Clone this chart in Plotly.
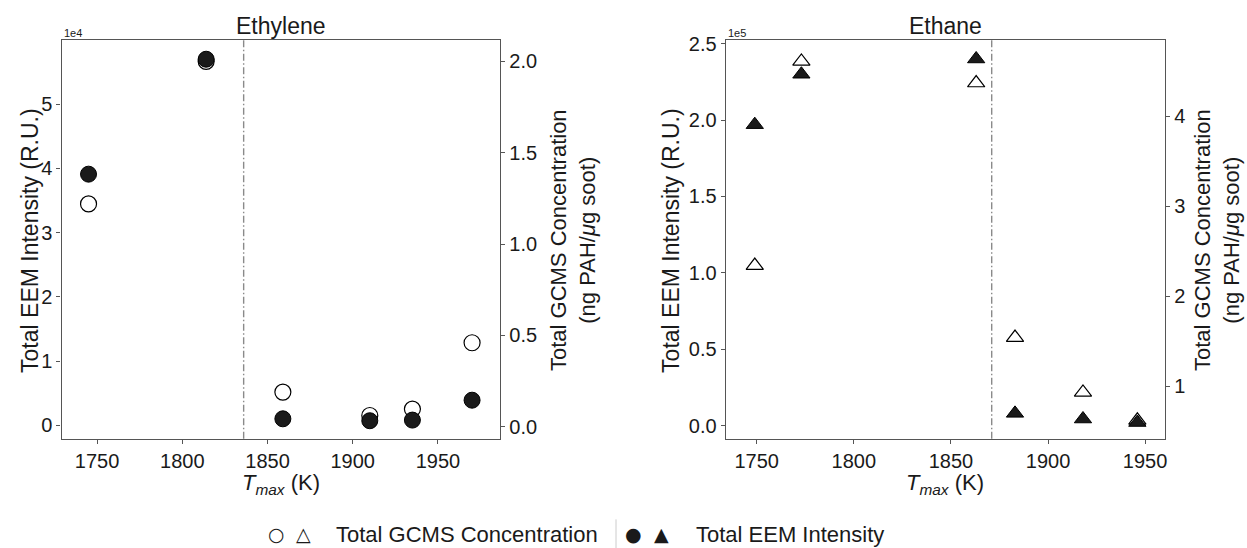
import plotly.graph_objects as go

W, H = 1247, 548

# ---------------- data ----------------
titles = ["Ethylene", "Ethane"]

ethylene_T = [1745, 1814, 1859, 1910, 1935, 1970]
ethylene_eem = [39100, 57000, 1000, 700, 800, 3900]
ethylene_gcms = [1.22, 2.00, 0.19, 0.062, 0.097, 0.46]

ethane_T = [1749, 1773, 1863, 1883, 1918, 1946]
ethane_eem = [197000, 230000, 240000, 8000, 4300, 2000]
ethane_gcms = [2.34, 4.61, 4.37, 1.54, 0.93, 0.62]

divider_T = [1836, 1871]

x_ticks = [1750, 1800, 1850, 1900, 1950]
ethylene_eem_ticks = [0, 10000, 20000, 30000, 40000, 50000]
ethylene_eem_ticktext = ["0", "1", "2", "3", "4", "5"]
ethylene_gcms_ticks = [0.0, 0.5, 1.0, 1.5, 2.0]
ethane_eem_ticks = [0, 50000, 100000, 150000, 200000, 250000]
ethane_eem_ticktext = ["0.0", "0.5", "1.0", "1.5", "2.0", "2.5"]
ethane_gcms_ticks = [1, 2, 3, 4]

legend_labels = ["Total GCMS Concentration", "Total EEM Intensity"]

# ---------------- style ----------------
FONT = "Liberation Sans, Arial, Helvetica, sans-serif"
SYMFONT = "DejaVu Sans, sans-serif"
AX = "#555555"
FILL = "#1a1a1a"
TXT = "#1a1a1a"


def px(x):
    return x / W


def py(y):
    return 1 - y / H


Y_DOM = [py(437.3), py(33)]
L_DOM = [px(61.7), px(501)]
R_DOM = [px(727), px(1167)]

axis_common = dict(
    showline=True, linecolor=AX, linewidth=1.3,
    ticks="outside", ticklen=4, tickwidth=1.3, tickcolor=AX,
    showgrid=False, zeroline=False,
    tickfont=dict(family=FONT, size=20, color=TXT),
)

fig = go.Figure()

open_marker_c = dict(symbol="circle", size=16, color="white", line=dict(color="black", width=1.2))
fill_marker_c = dict(symbol="circle", size=16, color=FILL, line=dict(color="black", width=1))
open_marker_t = dict(symbol="triangle-up", size=15, color="white", line=dict(color="black", width=1.2))
fill_marker_t = dict(symbol="triangle-up", size=15, color=FILL, line=dict(color="black", width=1))

# GCMS on base (right) axis, EEM on overlay (left) axis so filled markers are drawn on top
fig.add_trace(go.Scatter(x=ethylene_T, y=ethylene_gcms, mode="markers", marker=open_marker_c,
                         xaxis="x", yaxis="y", showlegend=False, name=legend_labels[0]))
fig.add_trace(go.Scatter(x=ethylene_T, y=ethylene_eem, mode="markers", marker=fill_marker_c,
                         xaxis="x", yaxis="y2", showlegend=False, name=legend_labels[1]))
fig.add_trace(go.Scatter(x=ethane_T, y=ethane_gcms, mode="markers", marker=open_marker_t,
                         xaxis="x2", yaxis="y3", showlegend=False, name=legend_labels[0]))
fig.add_trace(go.Scatter(x=ethane_T, y=ethane_eem, mode="markers", marker=fill_marker_t,
                         xaxis="x2", yaxis="y4", showlegend=False, name=legend_labels[1]))

fig.update_layout(
    width=W, height=H, autosize=False,
    margin=dict(l=0, r=0, t=0, b=0, pad=0),
    paper_bgcolor="white", plot_bgcolor="white",
    font=dict(family=FONT, color=TXT),
    showlegend=False,
    xaxis=dict(domain=L_DOM, anchor="y", range=[1729.2, 1986.5], tickvals=x_ticks,
               mirror=True, **axis_common),
    yaxis=dict(domain=Y_DOM, anchor="x", side="right", range=[-0.065, 2.119],
               tickvals=ethylene_gcms_ticks, tickformat=".1f", **axis_common),
    yaxis2=dict(overlaying="y", anchor="x", side="left", range=[-2100, 60060],
                tickvals=ethylene_eem_ticks, ticktext=ethylene_eem_ticktext, **axis_common),
    xaxis2=dict(domain=R_DOM, anchor="y3", range=[1734.1, 1960.3], tickvals=x_ticks,
                mirror=True, **axis_common),
    yaxis3=dict(domain=Y_DOM, anchor="x2", side="right", range=[0.415, 4.853],
                tickvals=ethane_gcms_ticks, tickformat="d", **axis_common),
    yaxis4=dict(overlaying="y3", anchor="x2", side="left", range=[-8600, 252700],
                tickvals=ethane_eem_ticks, ticktext=ethane_eem_ticktext, **axis_common),
)

# dividing dash-dot lines
for xv, xa, ya in zip(divider_T, ["x", "x2"], ["y domain", "y3 domain"]):
    fig.add_shape(type="line", xref=xa, yref=ya, x0=xv, x1=xv, y0=0, y1=1,
                  line=dict(color="#8a8a8a", width=1.4, dash="7px,2.5px,1.5px,2.5px"))

ann = []
# subplot titles
for t, dom in zip(titles, [L_DOM, R_DOM]):
    ann.append(dict(text=t, x=(dom[0] + dom[1]) / 2, y=py(19), xref="paper", yref="paper",
                    xanchor="center", yanchor="middle", showarrow=False,
                    font=dict(family=FONT, size=23, color=TXT)))
# x titles
for dom in [L_DOM, R_DOM]:
    ann.append(dict(text="<i>T</i><sub><i>max</i></sub> (K)", x=(dom[0] + dom[1]) / 2, y=py(467),
                    xref="paper", yref="paper", xanchor="center", yanchor="top", showarrow=False,
                    font=dict(family=FONT, size=22, color=TXT)))
# y titles
yc = py(236)
for xc in [30, 672]:
    ann.append(dict(text="Total EEM Intensity (R.U.)", x=px(xc), y=yc, xref="paper", yref="paper",
                    xanchor="center", yanchor="middle", textangle=-90, showarrow=False,
                    font=dict(family=FONT, size=23, color=TXT)))
for xc in [574, 1219]:
    ann.append(dict(text="Total GCMS Concentration<br>(ng PAH/<i>\u03bc</i>g soot)", x=px(xc), y=yc,
                    xref="paper", yref="paper", xanchor="center", yanchor="middle", textangle=-90,
                    showarrow=False, font=dict(family=FONT, size=22, color=TXT)))
# offset labels
for txt, xl in [("1e4", 61.7), ("1e5", 727)]:
    ann.append(dict(text=txt, x=px(xl), y=py(26), xref="paper", yref="paper",
                    xanchor="left", yanchor="middle", showarrow=False,
                    font=dict(family=FONT, size=11, color=TXT)))

# legend
LY = py(534)
for sym, xc in [("\u25cb", 277), ("\u25b3", 304), ("\u25cf", 635), ("\u25b2", 663)]:
    ann.append(dict(text=sym, x=px(xc), y=LY, xref="paper", yref="paper",
                    xanchor="center", yanchor="middle", showarrow=False,
                    font=dict(family=SYMFONT, size=19, color=TXT)))
for txt, xl in zip(legend_labels, [335, 695]):
    ann.append(dict(text=txt, x=px(xl), y=LY, xref="paper", yref="paper",
                    xanchor="left", yanchor="middle", showarrow=False,
                    font=dict(family=FONT, size=22, color=TXT)))
fig.update_layout(annotations=ann)
fig.add_shape(type="line", xref="paper", yref="paper", x0=px(617), x1=px(617), y0=py(519), y1=py(548),
              line=dict(color="#cccccc", width=1))

fig.write_html("out.html", config={"displayModeBar": False},
               post_script="document.body.style.margin='0px';document.body.style.padding='0px';")
